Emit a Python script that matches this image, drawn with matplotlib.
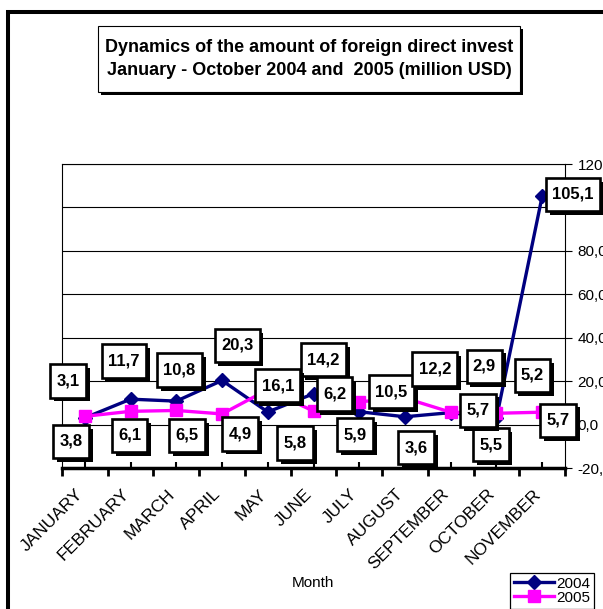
import numpy as np
import matplotlib.pyplot as plt
import matplotlib.patheffects as pe
from matplotlib.patches import Rectangle
from matplotlib.path import Path
from matplotlib.transforms import ScaledTranslation
from matplotlib.ticker import FuncFormatter

plt.rcParams['font.family'] = ['Liberation Sans', 'DejaVu Sans']

# Data
months = ["JANUARY", "FEBRUARY", "MARCH", "APRIL", "MAY", "JUNE", "JULY",
          "AUGUST", "SEPTEMBER", "OCTOBER", "NOVEMBER"]
fdi_2004 = [3.1, 11.7, 10.8, 20.3, 5.8, 14.2, 5.9, 3.6, 5.5, 2.9, 105.1]
fdi_2005 = [3.8, 6.1, 6.5, 4.9, 16.1, 6.2, 10.5, 12.2, 5.7, 5.2, 5.7]
yticks = [-20, 0, 20, 40, 60, 80, 100, 120]

# label box offsets (pixels right / down from the point), as placed in the original
off_2004 = [(-17, -37), (-7, -38), (3, -31), (15, -35), (27, 31), (10, -34),
            (-4, 23), (11, 31), (40, 32), (-12, -52), (31, -2)]
off_2005 = [(-14, 25), (-1, 24), (11, 25), (18, 20), (10, -4), (21, -17),
            (32, -10), (30, -29), (27, -2), (36, -38), (16, 8)]


def box_style(padx, pady):
    # rectangle with separate horizontal / vertical padding
    def style(x0, y0, width, height, mutation_size):
        px, py = padx * mutation_size, pady * mutation_size
        x0, y0 = x0 - px, y0 - py
        w, h = width + 2 * px, height + 2 * py
        return Path([(x0, y0), (x0 + w, y0), (x0 + w, y0 + h), (x0, y0 + h), (x0, y0)],
                    closed=True)
    return style


W, H = 603, 609
fig = plt.figure(figsize=(W / 100, H / 100), dpi=100)
ax = fig.add_axes([62 / W, 1 - 468 / H, 503 / W, 304 / H])

x = np.arange(len(months))
ax.plot(x, fdi_2004, color='#000080', lw=2.4, marker='D', ms=7,
        solid_joinstyle='round', zorder=3, label='2004')
ax.plot(x, fdi_2005, color='#FF00FF', lw=2.4, marker='s', ms=9,
        solid_joinstyle='round', zorder=3, label='2005')

ax.set_xlim(-0.5, len(months) - 0.5)
ax.set_ylim(-20, 120)

# y axis on the right, comma decimals
ax.yaxis.tick_right()
ax.set_yticks(yticks)
ax.yaxis.set_major_formatter(FuncFormatter(lambda v, p: f"{v:.1f}".replace('.', ',')))
ax.tick_params(axis='y', direction='out', length=5, width=0.8, pad=4, labelsize=11)
ax.grid(axis='y', color='black', lw=0.8)
ax.set_axisbelow(True)

# x axis: ticks between categories, labels at categories
ax.set_xticks(np.arange(-0.5, len(months)), [])
ax.set_xticks(x, months, minor=True)
ax.tick_params(axis='x', which='major', direction='out', length=6, width=2)
ax.tick_params(axis='x', which='minor', direction='in', length=4, width=1.5,
               pad=17, labelsize=12.5)
for lbl in ax.get_xticklabels(minor=True):
    lbl.set_rotation(45)
    lbl.set_ha('right')
    lbl.set_va('center')
    lbl.set_rotation_mode('anchor')
    lbl.set_transform(lbl.get_transform() + ScaledTranslation(-4 / 100, 0, fig.dpi_scale_trans))

for s in ['left', 'top', 'right']:
    ax.spines[s].set_linewidth(0.8)
ax.spines['bottom'].set_linewidth(2.5)

shadow = [pe.SimplePatchShadow(offset=(2.8, -2.8), shadow_rgbFace='black', alpha=1), pe.Normal()]


def label_points(vals, offs):
    for i, (v, (dx, dy)) in enumerate(zip(vals, offs)):
        t = ax.annotate(f"{v:.1f}".replace('.', ','), (x[i], v), xytext=(dx, -dy),
                        textcoords='offset pixels', ha='center', va='center',
                        fontsize=12, fontweight='bold', zorder=5,
                        bbox=dict(boxstyle=box_style(0.38, 0.55), fc='white',
                                  ec='black', lw=1.9),
                        annotation_clip=False)
        t.get_bbox_patch().set_path_effects(shadow)


label_points(fdi_2004, off_2004)
label_points(fdi_2005, off_2005)

# title box
title = fig.text(309 / W, 1 - 59 / H,
                 "Dynamics of the amount of foreign direct invest\n"
                 "January - October 2004 and  2005 (million USD)",
                 ha='center', va='center', fontsize=13, fontweight='bold',
                 linespacing=1.5,
                 bbox=dict(boxstyle=box_style(0.4, 0.7), fc='white', ec='black', lw=0.8))
title.get_bbox_patch().set_path_effects(
    [pe.SimplePatchShadow(offset=(2.2, -2.2), shadow_rgbFace='black', alpha=1), pe.Normal()])

fig.text(313 / W, 1 - 583 / H, "Month", ha='center', va='center', fontsize=11)

leg = fig.legend(loc='upper left', bbox_to_anchor=(510 / W, 1 - 573 / H),
                 fontsize=11, handlelength=2.6, handletextpad=0.15,
                 labelspacing=0.0, borderpad=0.25, borderaxespad=0,
                 fancybox=False, framealpha=1, edgecolor='black')
leg.get_frame().set_linewidth(0.9)

# outer chart frame, running off the right and bottom edges
fig.add_artist(Rectangle((8 / W, -0.2), 2, 1.2 - 11.5 / H, transform=fig.transFigure,
                         fill=False, ec='black', lw=2.9, clip_on=False))

fig.savefig('out.png', dpi=100)
